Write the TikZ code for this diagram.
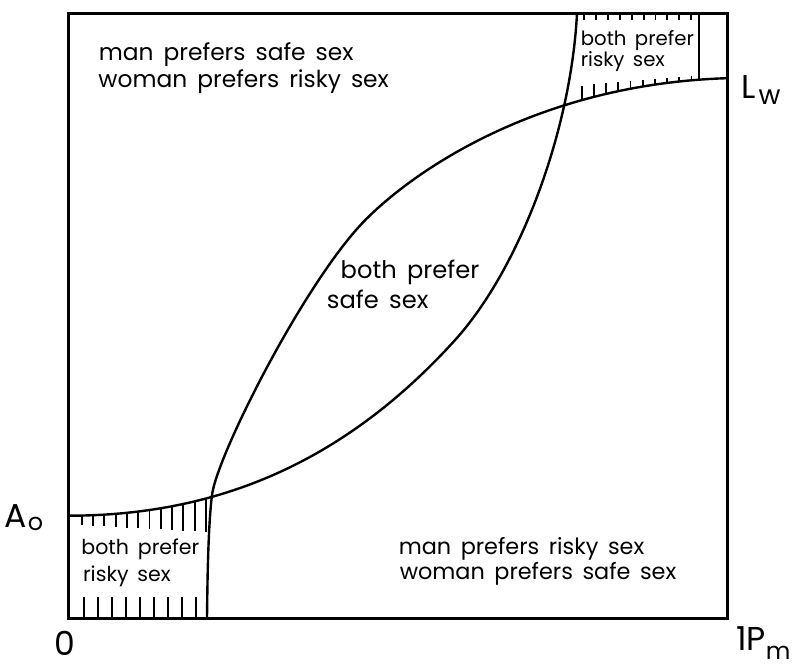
\documentclass[tikz,border=0pt]{standalone}
\usepackage{fontspec}
\setmainfont{Poppins}[WordSpace=1.6]
\begin{document}
\begin{tikzpicture}[x=0.025cm,y=-0.025cm,
  frame/.style={line width=1.9pt},
  curve/.style={line width=1.7pt},
  hatch/.style={line width=1.4pt},
  txt/.style={inner sep=0pt,anchor=base west},
  axlbl/.style={inner sep=0pt,anchor=base west,font=\fontsize{23.5}{28}\selectfont}]
\useasboundingbox (0,0) rectangle (798,669);
\def\CurveOne{(68.25,515.7) .. controls (218.25,515.7) and (344.4,461.8) .. (454.4,340.8) .. controls (520.4,268.2) and (571,130) .. (577,13.5)}
\def\CurveTwo{(207,618.5) .. controls (207.5,570) and (208.5,523) .. (212,495) .. controls (217,455) and (306.1,279.2) .. (366.1,219.2) .. controls (416.1,169.2) and (540,84) .. (727.25,78.2)}
% frame
\coordinate (O) at (68.25,618.5);
\coordinate (TR) at (727.25,13.5);
\coordinate (A0) at (68.25,515.7);
\coordinate (LW) at (727.25,78.2);
\draw[frame] (O) rectangle (TR);
% curves
\draw[curve] \CurveOne;
\draw[curve] \CurveTwo;
% hatching, lower left
\foreach \k in {0,...,8} \draw[hatch] ({83.7+14*\k},618.5) -- ({83.7+14*\k},597);
\begin{scope}
  \clip \CurveOne -- (798,13.5) -- (798,669) -- (0,669) -- (0,515.7) -- cycle;
  \clip \CurveTwo -- (727.25,0) -- (0,0) -- (0,669) -- (207,669) -- cycle;
  \foreach \k in {0,...,11} \draw[hatch] ({81.7+11.3*\k},{525+11.3*\k*0.056}) -- ({81.7+11.3*\k},470);
\end{scope}
% hatching, upper right
\foreach \k in {0,...,9} \draw[hatch] ({584.4+11.85*\k},13.5) -- ({584.4+11.85*\k},20.5);
\begin{scope}
  \clip \CurveTwo -- (727.25,0) -- (0,0) -- (0,669) -- (207,669) -- cycle;
  \foreach \k in {0,...,9} \draw[hatch] ({581.7+12.2*\k},{86-(4.7+12.2*\k)*0.09}) -- ({581.7+12.2*\k},140);
  \draw[curve] (699,13.5) -- (699,130);
\end{scope}
% region texts
\node[txt,font=\fontsize{16.6}{20}\selectfont] (ta1) at (98.6,60.6) {man prefers safe sex};
\node[txt,font=\fontsize{16.6}{20}\selectfont] (ta2) at (98.2,87.2) {woman prefers risky sex};
\node[txt,font=\fontsize{17.2}{20}\selectfont] (tb1) at (340.4,278.8) {both prefer};
\node[txt,font=\fontsize{17.2}{20}\selectfont] (tb2) at (326.6,308.5) {safe sex};
\node[txt,font=\fontsize{14}{17}\selectfont] (tc1) at (580.6,45.1) {both prefer};
\node[txt,font=\fontsize{14}{17}\selectfont] (tc2) at (580.6,66.7) {risky sex};
\node[txt,font=\fontsize{14.6}{18}\selectfont] (td1) at (81.2,554.4) {both prefer};
\node[txt,font=\fontsize{14.6}{18}\selectfont] (td2) at (82.8,581.1) {risky sex};
\node[txt,font=\fontsize{15.9}{19}\selectfont] (te1) at (398.5,555) {man prefers risky sex};
\node[txt,font=\fontsize{15.9}{19}\selectfont] (te2) at (399.5,580) {woman prefers safe sex};
% axis labels
\node[axlbl] (lA) at (4,527.2) {A\kern1pt\raisebox{-2pt}{\fontsize{17}{17}\selectfont o}};
\node[axlbl] (l0) at (54.7,656) {0};
\node[axlbl] (lL) at (741.2,98.6) {L\kern2pt\raisebox{-4.3pt}{\fontsize{19}{19}\selectfont w}};
\node[axlbl] (lP) at (736,650.5) {1P\raisebox{-6.5pt}{\fontsize{17}{17}\selectfont m}};
\end{tikzpicture}
\end{document}
